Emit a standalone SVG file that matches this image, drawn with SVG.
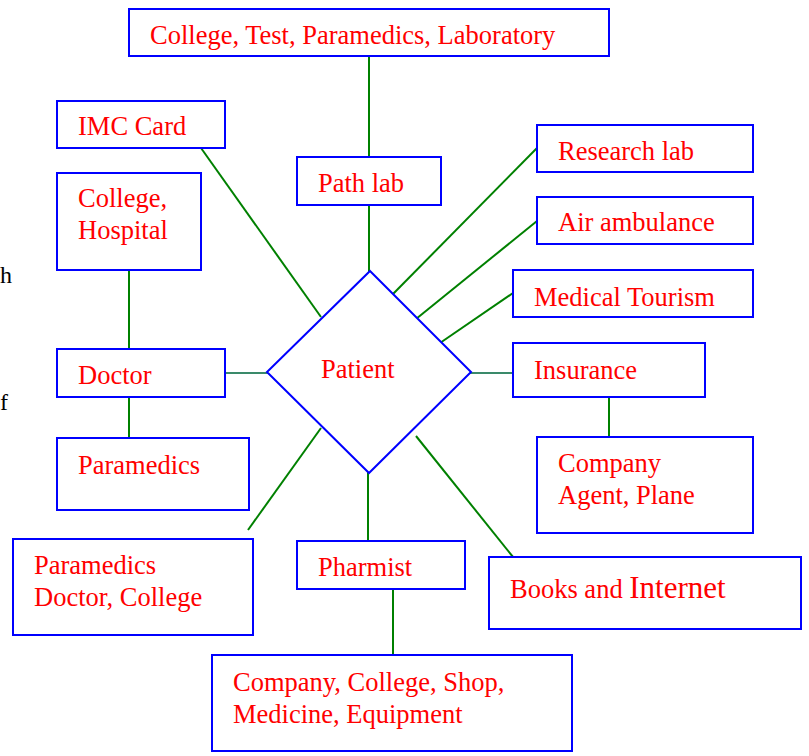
<svg xmlns="http://www.w3.org/2000/svg" width="809" height="756" viewBox="0 0 809 756">
<style>
.b{fill:#fff;stroke:#0000ff;stroke-width:2}
.t{font-family:"Liberation Serif","Times New Roman",serif;font-size:26.5px;fill:#ff0000}
.k{font-family:"Liberation Serif","Times New Roman",serif;font-size:24px;fill:#000}
.c line{stroke:#008000;stroke-width:2}
</style>
<rect width="809" height="756" fill="#fff"/>
<text class="k" x="0" y="283">h</text>
<text class="k" x="0" y="410">f</text>
<g class="c" id="connectors">
<line x1="369" y1="57" x2="369" y2="157"/>
<line x1="369" y1="205" x2="369" y2="272"/>
<line x1="201" y1="148" x2="321" y2="317"/>
<line x1="537" y1="148" x2="393" y2="294"/>
<line x1="537" y1="221" x2="416" y2="319"/>
<line x1="513" y1="293" x2="440" y2="343"/>
<line x1="129" y1="270" x2="129" y2="349"/>
<line x1="129" y1="397" x2="129" y2="438"/>
<line x1="225" y1="373" x2="272" y2="373" style="stroke:#3a8a6a"/>
<line x1="466" y1="373" x2="513" y2="373" style="stroke:#3a8a6a"/>
<line x1="609" y1="397" x2="609" y2="437"/>
<line x1="321" y1="428" x2="248" y2="530"/>
<line x1="368" y1="466" x2="368" y2="541"/>
<line x1="416" y1="436" x2="513" y2="557"/>
<line x1="393" y1="589" x2="393" y2="655"/>
</g>
<g id="top"><rect class="b" x="129" y="9" width="480" height="47"/><text class="t" x="150" y="44">College, Test, Paramedics, Laboratory</text></g>
<g id="imc"><rect class="b" x="57" y="101" width="168" height="47"/><text class="t" x="78" y="135">IMC Card</text></g>
<g id="college-hospital"><rect class="b" x="57" y="173" width="144" height="97"/><text class="t" x="78" y="207">College,</text><text class="t" x="78" y="239">Hospital</text></g>
<g id="pathlab"><rect class="b" x="297" y="157" width="144" height="48"/><text class="t" x="318" y="192">Path lab</text></g>
<g id="research"><rect class="b" x="537" y="125" width="216" height="47"/><text class="t" x="558" y="160">Research lab</text></g>
<g id="air"><rect class="b" x="537" y="197" width="216" height="47"/><text class="t" x="558" y="231">Air ambulance</text></g>
<g id="tourism"><rect class="b" x="513" y="270" width="240" height="47"/><text class="t" x="534" y="306">Medical Tourism</text></g>
<g id="insurance"><rect class="b" x="513" y="343" width="192" height="54"/><text class="t" x="534" y="379">Insurance</text></g>
<g id="doctor"><rect class="b" x="57" y="349" width="168" height="48"/><text class="t" x="78" y="384">Doctor</text></g>
<g id="paramedics"><rect class="b" x="57" y="438" width="192" height="72"/><text class="t" x="78" y="474">Paramedics</text></g>
<g id="company-agent"><rect class="b" x="537" y="437" width="216" height="96"/><text class="t" x="558" y="472">Company</text><text class="t" x="558" y="504">Agent, Plane</text></g>
<g id="paramedics-doctor"><rect class="b" x="13" y="539" width="240" height="96"/><text class="t" x="34" y="574">Paramedics</text><text class="t" x="34" y="606">Doctor, College</text></g>
<g id="pharmist"><rect class="b" x="297" y="541" width="168" height="48"/><text class="t" x="318" y="576">Pharmist</text></g>
<g id="books"><rect class="b" x="489" y="557" width="312" height="72"/><text class="t" x="510" y="598">Books and <tspan style="font-size:31px">Internet</tspan></text></g>
<g id="company-shop"><rect class="b" x="212" y="655" width="360" height="96"/><text class="t" x="233" y="691">Company, College, Shop,</text><text class="t" x="233" y="723">Medicine, Equipment</text></g>
<g id="patient"><polygon class="b" points="370,271 471,372 369,473 267,372"/><text class="t" x="321" y="378">Patient</text></g>
</svg>
